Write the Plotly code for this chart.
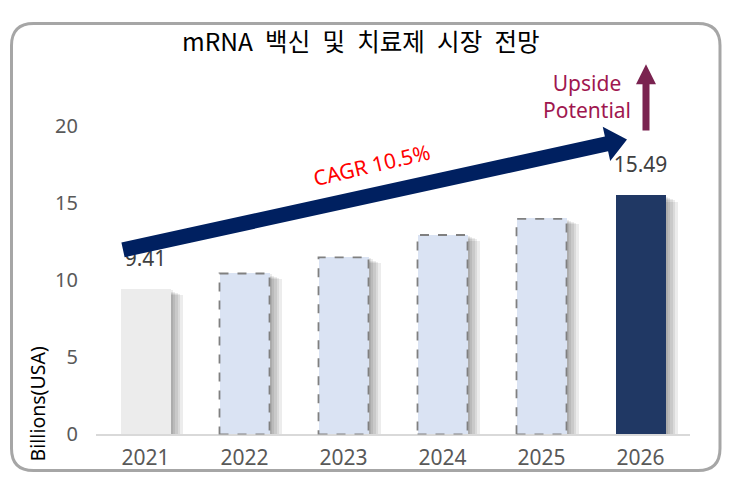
import math
import plotly.graph_objects as go

# page geometry: 8px body margin; the photographed page is squeezed vertically
OX, OY = 8, 8
W, H = 731 - 2 * OX, 493 - 2 * OY
SY, TY = 0.94, 22.0   # picture_y ~= TY + SY * figure_y

years = ["2021", "2022", "2023", "2024", "2025", "2026"]
values = [9.41, 10.45, 11.5, 12.95, 14.0, 15.49]
labels = {0: "9.41", 5: "15.49"}
bar_colors = ["#ececec", "#dae3f3", "#dae3f3", "#dae3f3", "#dae3f3", "#203864"]
dashed = [False, True, True, True, True, False]
yticks = [0, 5, 10, 15, 20]
title = "mRNA\u2002백신\u2002및\u2002치료제\u2002시장\u2002전망"
ytitle = "Billions(USA)"
cagr_text = "CAGR 10.5%"
upside_text = "Upside<br>Potential"

FONT = "Noto Sans, Noto Sans CJK KR, sans-serif"


def fy(y):
    """target picture y -> figure y"""
    return (y - TY) / SY


def P(x, y):
    return (x - OX) / W, 1 - fy(y) / H


def Pfig(x, yfig):
    return (x - OX) / W, 1 - yfig / H


def path(points):
    s = ""
    for i, (x, y) in enumerate(points):
        px, py = P(x, y)
        s += ("M" if i == 0 else "L") + f"{px:.5f},{py:.5f} "
    return s + "Z"


def rounded_rect_fig(x0, y0, x1, y1, r, ry):
    def p(x, y):
        a, b = Pfig(x, y)
        return f"{a:.5f},{b:.5f}"
    return (f"M{p(x0 + r, y0)} L{p(x1 - r, y0)} Q{p(x1, y0)} {p(x1, y0 + ry)} "
            f"L{p(x1, y1 - ry)} Q{p(x1, y1)} {p(x1 - r, y1)} L{p(x0 + r, y1)} "
            f"Q{p(x0, y1)} {p(x0, y1 - ry)} L{p(x0, y0 + ry)} Q{p(x0, y0)} {p(x0 + r, y0)} Z")


x0p, _ = P(96, 0)
x1p, _ = P(690, 0)
_, y0p = P(0, 433)
_, y1p = P(0, 126)
bw = 0.505
idx = list(range(len(years)))
cat_px = (690 - 96) / 6.0
unit_px = (433 - 126) / 20.0

fig = go.Figure()

# soft drop shadows
for k in range(5, 0, -1):
    dx = k * 2.4 / cat_px
    db = -k * 0.7 / unit_px
    drop = k * 1.2 / unit_px
    fig.add_trace(go.Bar(
        x=idx, y=[v - drop - db for v in values], base=db,
        width=bw, offset=-bw / 2 + dx,
        marker=dict(color="rgba(0,0,0,0.075)", line=dict(width=0)),
        hoverinfo="skip", showlegend=False))

fig.add_trace(go.Bar(
    x=idx, y=values, width=bw, offset=-bw / 2,
    marker=dict(color=bar_colors, line=dict(width=0)),
    showlegend=False))

fig.add_trace(go.Scatter(
    x=[i for i in labels], y=[values[i] + 1.87 for i in labels],
    text=[labels[i] for i in labels], mode="text",
    textfont=dict(family=FONT, size=21, color="#404040"),
    showlegend=False, hoverinfo="skip", cliponaxis=False))

shapes = []
for i, v in enumerate(values):
    if dashed[i]:
        shapes.append(dict(type="rect", xref="x", yref="y",
                           x0=i - bw / 2, x1=i + bw / 2, y0=0, y1=v,
                           line=dict(color="#808080", width=1.8, dash="dash"),
                           fillcolor="rgba(0,0,0,0)", layer="above"))

# big CAGR arrow
S = (123, 249)
T = (627, 139)
dx, dy = T[0] - S[0], T[1] - S[1]
ln = math.hypot(dx, dy)
u = (dx / ln, dy / ln)
n = (-u[1], u[0])
w, L, HW = 7.5, 21, 17.5
B = (T[0] - L * u[0], T[1] - L * u[1])
pts = [
    (S[0] + w * n[0], S[1] + w * n[1]),
    (B[0] + w * n[0], B[1] + w * n[1]),
    (B[0] + HW * n[0], B[1] + HW * n[1]),
    T,
    (B[0] - HW * n[0], B[1] - HW * n[1]),
    (B[0] - w * n[0], B[1] - w * n[1]),
    (S[0] - w * n[0], S[1] - w * n[1]),
]
shapes.append(dict(type="path", xref="paper", yref="paper", path=path(pts),
                   fillcolor="#002060", line=dict(width=0), layer="above"))

# upside arrow
cx = 646
up = [(cx - 3.5, 130), (cx - 3.5, 84), (cx - 10, 84), (cx, 64),
      (cx + 10, 84), (cx + 3.5, 84), (cx + 3.5, 130)]
shapes.append(dict(type="path", xref="paper", yref="paper", path=path(up),
                   fillcolor="#7a2350", line=dict(width=0), layer="above"))

# frame, as close to the picture edges as the page allows
shapes.append(dict(type="path", xref="paper", yref="paper",
                   path=rounded_rect_fig(11.5, 1.6, 720, H - 1.6, 22, 22 / SY),
                   line=dict(color="#a6a6a6", width=3),
                   fillcolor="rgba(0,0,0,0)", layer="above"))

ann = []
tx, ty = P(361, 40)
ann.append(dict(text=title, x=tx, y=ty, xref="paper", yref="paper",
                showarrow=False, xanchor="center", yanchor="middle",
                font=dict(family="Noto Sans CJK KR, Noto Sans, sans-serif", size=24.5, color="#000000")))
ax_, ay_ = P(37, 403)
ann.append(dict(text=ytitle, x=ax_, y=ay_, xref="paper", yref="paper",
                showarrow=False, textangle=-90, xanchor="center", yanchor="middle",
                font=dict(family=FONT, size=19.5, color="#000000")))
cx_, cy_ = P(371, 164)
ann.append(dict(text=cagr_text, x=cx_, y=cy_, xref="paper", yref="paper",
                showarrow=False, textangle=-13.2, xanchor="center", yanchor="middle",
                font=dict(family=FONT, size=21, color="#ff0000")))
ux, uy = P(587, 96)
ann.append(dict(text=upside_text, x=ux, y=uy, xref="paper", yref="paper",
                showarrow=False, xanchor="center", yanchor="middle", align="center",
                font=dict(family=FONT, size=21, color="#a0174f")))

fig.update_layout(
    width=W, height=H, margin=dict(l=0, r=0, t=0, b=0),
    paper_bgcolor="white", plot_bgcolor="white",
    barmode="overlay", bargap=0, shapes=shapes, annotations=ann,
    xaxis=dict(domain=[x0p, x1p], range=[-0.5, 5.5], tickmode="array",
               tickvals=idx, ticktext=years, showgrid=False, zeroline=False,
               showline=True, linecolor="#d9d9d9", linewidth=1.5,
               ticks="outside", ticklen=4, tickcolor="rgba(0,0,0,0)",
               tickfont=dict(family=FONT, size=21, color="#595959"), fixedrange=True),
    yaxis=dict(domain=[y0p, y1p], range=[0, 20], tickvals=yticks, showgrid=False,
               zeroline=False, showline=False, ticks="outside", ticklen=13,
               tickcolor="rgba(0,0,0,0)",
               tickfont=dict(family=FONT, size=20, color="#595959"), fixedrange=True),
)

fig.write_html("out.html")
